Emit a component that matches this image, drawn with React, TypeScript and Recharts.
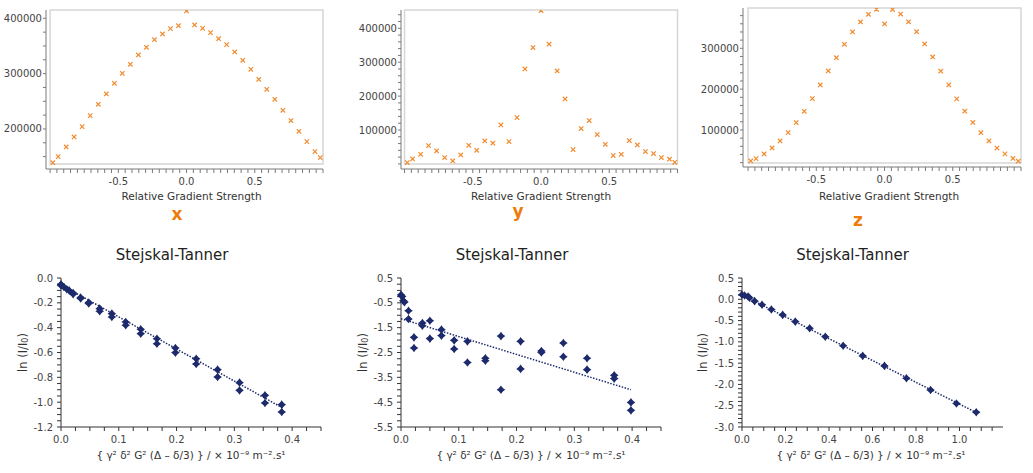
import React from 'react';
import { ScatterChart, Scatter, XAxis, YAxis, ReferenceArea, ReferenceLine } from 'recharts';

const FONT = '"DejaVu Sans", Verdana, sans-serif';
const ORANGE = '#f28a2e';
const LABEL_ORANGE = '#ec7d0c';
const NAVY = '#1d2a6c';

// relative gradient strength, shared by the three profiles
const gradient = [
  -0.98, -0.941, -0.882, -0.824, -0.765, -0.706, -0.647, -0.588, -0.529, -0.471, -0.412, -0.353,
  -0.294, -0.235, -0.176, -0.118, -0.059, 0, 0.059, 0.118, 0.176, 0.235, 0.294, 0.353, 0.412,
  0.471, 0.529, 0.588, 0.647, 0.706, 0.765, 0.824, 0.882, 0.941, 0.98,
];
const xIntensity = [
  139000, 150000, 167500, 185500, 204200, 224100, 244600, 263300, 282500, 300600, 316900, 333700,
  347600, 361400, 371700, 381300, 386700, 413300, 388000, 381900, 374100, 363200, 352400, 339200,
  324100, 307800, 289800, 271700, 253600, 233700, 215100, 195800, 177100, 159000, 148200,
];
const yIntensity = [
  4000, 14700, 28500, 54000, 38300, 18700, 8800, 26500, 55000, 40300, 67800, 61000, 115000, 65900,
  136700, 280200, 343200, 452300, 353000, 274300, 191700, 42300, 104200, 127800, 86500, 58000,
  24600, 28500, 68800, 56000, 36400, 30500, 18700, 13800, 4900,
];
const zIntensity = [
  24100, 29800, 41200, 55900, 73100, 93500, 118000, 145700, 176700, 210200, 244500, 277100, 309800,
  340000, 364500, 383300, 395500, 359600, 395000, 383800, 364800, 340600, 310600, 278800, 244000,
  210600, 176200, 146000, 118400, 93200, 73500, 55600, 41500, 30200, 23800,
];

// Stejskal-Tanner points: b-value and ln(I/I0)
const stXb = [
  0, 0, 0.005, 0.01, 0.014, 0.021, 0.021, 0.034, 0.034, 0.048, 0.048, 0.067, 0.067, 0.088, 0.088,
  0.112, 0.112, 0.138, 0.138, 0.166, 0.166, 0.198, 0.198, 0.234, 0.234, 0.271, 0.271, 0.309, 0.309,
  0.353, 0.353, 0.382, 0.382,
];
const stXln = [
  -0.05, -0.06, -0.072, -0.09, -0.1, -0.121, -0.13, -0.158, -0.165, -0.198, -0.205, -0.247, -0.268,
  -0.287, -0.314, -0.354, -0.381, -0.413, -0.448, -0.489, -0.529, -0.564, -0.601, -0.65, -0.693,
  -0.738, -0.797, -0.843, -0.905, -0.945, -1.007, -1.02, -1.079,
];
const stXfitB = [0, 0.385];
const stXfitLn = [-0.055, -1.05];

const stYb = [
  0, 0.002, 0.004, 0.006, 0.013, 0.013, 0.0225, 0.0225, 0.037, 0.037, 0.05, 0.05, 0.07, 0.07, 0.092,
  0.092, 0.115, 0.115, 0.146, 0.146, 0.173, 0.173, 0.207, 0.207, 0.243, 0.243, 0.281, 0.281, 0.322,
  0.322, 0.369, 0.369, 0.398, 0.398,
];
const stYln = [
  -0.18, -0.24, -0.42, -0.47, -0.82, -1.15, -1.89, -2.32, -1.31, -1.42, -1.22, -1.94, -1.58, -1.82,
  -2.01, -2.36, -2.05, -2.9, -2.73, -2.83, -1.84, -4.0, -2.05, -3.16, -2.44, -2.5, -2.12, -2.67,
  -2.73, -3.19, -3.42, -3.55, -4.51, -4.83,
];
const stYfitB = [0, 0.398];
const stYfitLn = [-1.14, -4.0];

const stZb = [
  0, 0.012, 0.028, 0.034, 0.058, 0.092, 0.135, 0.187, 0.245, 0.311, 0.383, 0.465, 0.555, 0.655,
  0.756, 0.867, 0.986, 1.077,
];
const stZln = [
  0.106, 0.09, 0.067, 0.035, -0.044, -0.13, -0.24, -0.367, -0.524, -0.682, -0.879, -1.09, -1.33,
  -1.565, -1.856, -2.13, -2.447, -2.652,
];
const stZfitB = [0, 1.077];
const stZfitLn = [0.1, -2.66];

// tick labels
const gradientLabels = [-0.5, 0, 0.5];
const xyLabelsTop = [100000, 200000, 300000, 400000];
const stXbLabels = [0, 0.1, 0.2, 0.3, 0.4];
const stXlnLabels = [0, -0.2, -0.4, -0.6, -0.8, -1.0, -1.2];
const stYlnLabels = [0.5, -0.5, -1.5, -2.5, -3.5, -4.5, -5.5];
const stZbLabels = [0, 0.2, 0.4, 0.6, 0.8, 1.0];
const stZlnLabels = [0.5, 0, -0.5, -1.0, -1.5, -2.0, -2.5, -3.0];

function range(start: number, stop: number, step: number) {
  const out: number[] = [];
  const n = Math.round((stop - start) / step);
  for (let i = 0; i <= n; i++) out.push(Math.round((start + i * step) * 1e6) / 1e6);
  return out;
}

const isOneOf = (v: number, list: number[]) => list.some((m) => Math.abs(m - v) < 1e-6);

const tickStyle = { fontSize: 10, fill: '#444', fontFamily: FONT };

function XMark(props: any) {
  const { cx, cy } = props;
  if (cx == null || cy == null) return null;
  const r = 2.2;
  return (
    <path
      d={`M${cx - r},${cy - r}L${cx + r},${cy + r}M${cx - r},${cy + r}L${cx + r},${cy - r}`}
      stroke={ORANGE}
      strokeWidth={1.2}
      fill="none"
    />
  );
}

function Star(props: any) {
  const { cx, cy } = props;
  if (cx == null || cy == null) return null;
  const s = 4.3;
  const w = 1.8;
  return (
    <g>
      <path
        d={`M${cx},${cy - s}L${cx + w},${cy - w}L${cx + s},${cy}L${cx + w},${cy + w}L${cx},${cy + s}L${cx - w},${cy + w}L${cx - s},${cy}L${cx - w},${cy - w}Z`}
        fill={NAVY}
      />
      <circle cx={cx} cy={cy} r={2.4} fill={NAVY} />
    </g>
  );
}

function Label({ x, y, size, children, color = '#333', weight = 400, rotate = false }: any) {
  return (
    <div
      style={{
        position: 'absolute',
        left: x - 200,
        top: y - size,
        width: 400,
        height: size * 2,
        lineHeight: `${size * 2}px`,
        textAlign: 'center',
        fontSize: size,
        fontFamily: FONT,
        fontWeight: weight,
        color,
        whiteSpace: 'nowrap',
        transform: rotate ? 'rotate(-90deg)' : undefined,
      }}
    >
      {children}
    </div>
  );
}

function GradientPanel({ left, width, axisWidth, top, right, bottom, xMin, yDomain, yTicks, box, values }: any) {
  const data = gradient.map((g, i) => ({ x: g, y: values[i] }));
  return (
    <div style={{ position: 'absolute', left, top: 0 }}>
      <ScatterChart width={width} height={230} margin={{ top, right, bottom, left: 0 }}>
        <XAxis
          type="number"
          dataKey="x"
          domain={[xMin, 1]}
          ticks={range(-1, 1, 0.05)}
          interval={0}
          tickFormatter={(v: number) => (isOneOf(v, gradientLabels) ? v.toFixed(1) : '')}
          height={30}
          tickSize={4}
          tickMargin={5}
          stroke="#7a7a7a"
          tick={tickStyle}
          allowDataOverflow
        />
        <YAxis
          type="number"
          dataKey="y"
          domain={yDomain}
          ticks={yTicks}
          interval={0}
          tickFormatter={(v: number) => (isOneOf(v, xyLabelsTop) ? String(v) : '')}
          width={axisWidth}
          tickSize={3}
          tickMargin={1}
          stroke="#7a7a7a"
          tick={tickStyle}
          allowDataOverflow
        />
        <ReferenceArea x1={-1} x2={1} y1={box[0]} y2={box[1]} fill="none" stroke="#d6d6d6" strokeWidth={1.5} ifOverflow="visible" />
        <Scatter data={data} shape={(p: any) => <XMark {...p} />} isAnimationActive={false} />
      </ScatterChart>
    </div>
  );
}

function TannerPanel({ left, width, axisWidth, right, xMax, xTicks, xLabels, yDomain, yTicks, yLabels, b, ln, fitB, fitLn }: any) {
  const data = b.map((v: number, i: number) => ({ x: v, y: ln[i] }));
  return (
    <div style={{ position: 'absolute', left, top: 235 }}>
      <ScatterChart width={width} height={238} margin={{ top: 43, right, bottom: 26, left: 0 }}>
        <XAxis
          type="number"
          dataKey="x"
          domain={[0, xMax]}
          ticks={xTicks}
          interval={0}
          tickFormatter={(v: number) => (isOneOf(v, xLabels) ? v.toFixed(1) : '')}
          height={20}
          tickSize={4}
          tickMargin={5}
          stroke="#333"
          tick={tickStyle}
        />
        <YAxis
          type="number"
          dataKey="y"
          domain={yDomain}
          ticks={yTicks}
          interval={0}
          tickFormatter={(v: number) => (isOneOf(v, yLabels) ? v.toFixed(1) : '')}
          width={axisWidth}
          tickSize={4}
          tickMargin={4}
          stroke="#333"
          tick={tickStyle}
        />
        <ReferenceLine
          segment={[{ x: fitB[0], y: fitLn[0] }, { x: fitB[1], y: fitLn[1] }]}
          stroke={NAVY}
          strokeWidth={1.5}
          strokeDasharray="1.5 1.5"
        />
        <Scatter data={data} shape={(p: any) => <Star {...p} />} isAnimationActive={false} />
      </ScatterChart>
    </div>
  );
}

const bLabel = '{ γ² δ² G² (Δ – δ/3) } / × 10⁻⁹ m⁻².s¹';
const lnLabel = (
  <span>
    ln (I/I<sub style={{ fontSize: '0.7em', verticalAlign: '-0.2em' }}>0</sub>)
  </span>
);

export default function App() {
  return (
    <div style={{ position: 'absolute', left: 0, top: 0, width: 1033, height: 473, background: '#fff', overflow: 'hidden' }}>
      <GradientPanel
        left={0}
        width={340}
        axisWidth={46}
        top={10}
        right={17}
        bottom={31}
        xMin={-1.03}
        yDomain={[127600, 415000]}
        yTicks={range(150000, 400000, 25000)}
        box={[136600, 415000]}
        values={xIntensity}
      />
      <GradientPanel
        left={340}
        width={350}
        axisWidth={61}
        top={10}
        right={12.5}
        bottom={31}
        xMin={-1.026}
        yDomain={[-15000, 454000]}
        yTicks={range(0, 440000, 20000)}
        box={[0, 454000]}
        values={yIntensity}
      />
      <GradientPanel
        left={690}
        width={343}
        axisWidth={53}
        top={8}
        right={12}
        bottom={33}
        xMin={-1.037}
        yDomain={[9300, 398700]}
        yTicks={range(20000, 380000, 20000)}
        box={[19100, 398700]}
        values={zIntensity}
      />

      <Label x={191.5} y={196} size={10.5}>Relative Gradient Strength</Label>
      <Label x={541} y={196} size={10.5}>Relative Gradient Strength</Label>
      <Label x={889} y={196} size={10.5}>Relative Gradient Strength</Label>
      <Label x={177} y={213.7} size={17} weight={700} color={LABEL_ORANGE}>x</Label>
      <Label x={518} y={211.3} size={17} weight={700} color={LABEL_ORANGE}>y</Label>
      <Label x={858} y={220.3} size={17} weight={700} color={LABEL_ORANGE}>z</Label>

      <TannerPanel
        left={0}
        width={340}
        axisWidth={61}
        right={19}
        xMax={0.45}
        xTicks={range(0, 0.45, 0.025)}
        xLabels={stXbLabels}
        yDomain={[-1.2, 0]}
        yTicks={range(-1.2, 0, 0.05)}
        yLabels={stXlnLabels}
        b={stXb}
        ln={stXln}
        fitB={stXfitB}
        fitLn={stXfitLn}
      />
      <TannerPanel
        left={340}
        width={350}
        axisWidth={61}
        right={29}
        xMax={0.45}
        xTicks={range(0, 0.45, 0.025)}
        xLabels={stXbLabels}
        yDomain={[-5.5, 0.5]}
        yTicks={range(-5.5, 0.5, 0.25)}
        yLabels={stYlnLabels}
        b={stYb}
        ln={stYln}
        fitB={stYfitB}
        fitLn={stYfitLn}
      />
      <TannerPanel
        left={690}
        width={343}
        axisWidth={52}
        right={30}
        xMax={1.2}
        xTicks={range(0, 1.15, 0.05)}
        xLabels={stZbLabels}
        yDomain={[-3, 0.5]}
        yTicks={range(-3, 0.5, 0.1)}
        yLabels={stZlnLabels}
        b={stZb}
        ln={stZln}
        fitB={stZfitB}
        fitLn={stZfitLn}
      />

      <Label x={172} y={255} size={15} color="#222">Stejskal-Tanner</Label>
      <Label x={512} y={255} size={15} color="#222">Stejskal-Tanner</Label>
      <Label x={852.5} y={255} size={15} color="#222">Stejskal-Tanner</Label>
      <Label x={191} y={455} size={10.5}>{bLabel}</Label>
      <Label x={531} y={455} size={10.5}>{bLabel}</Label>
      <Label x={871} y={455} size={10.5}>{bLabel}</Label>
      <Label x={23} y={352} size={11.5} rotate>{lnLabel}</Label>
      <Label x={363} y={352} size={11.5} rotate>{lnLabel}</Label>
      <Label x={703} y={352} size={11.5} rotate>{lnLabel}</Label>
    </div>
  );
}
